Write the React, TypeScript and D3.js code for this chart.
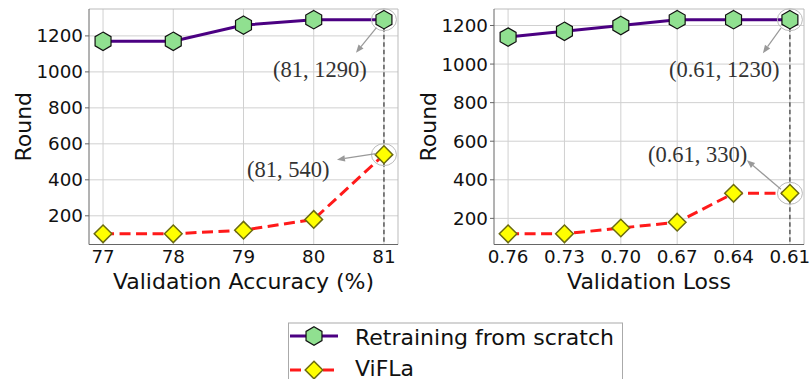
import React from "react";
import * as d3 from "d3";

const accCategories = [77, 78, 79, 80, 81];
const accRetrain = [1170, 1170, 1260, 1290, 1290];
const accViFLa = [100, 100, 120, 180, 540];

const lossCategories = ["0.76", "0.73", "0.70", "0.67", "0.64", "0.61"];
const lossRetrain = [1140, 1170, 1200, 1230, 1230, 1230];
const lossViFLa = [120, 120, 150, 180, 330, 330];

const yTicks = [200, 400, 600, 800, 1000, 1200];
const seriesNames = ["Retraining from scratch", "ViFLa"];

const W = 812;
const H = 379;
const TOP = 9;
const BOTTOM = 244.5;
const SANS = "DejaVu Sans, sans-serif";
const SERIF = "Liberation Serif, Times New Roman, serif";

const hexPath = (r: number) => {
  const pts: [number, number][] = [];
  for (let i = 0; i < 6; i++) {
    const a = -Math.PI / 2 + (i * Math.PI) / 3;
    pts.push([r * Math.cos(a), r * Math.sin(a)]);
  }
  return "M" + pts.map((p) => p.join(",")).join("L") + "Z";
};
const diamondPath = (r: number) => `M0,${-r}L${r},0L0,${r}L${-r},0Z`;

const Hex = ({ x, y }: { x: number; y: number }) => (
  <path d={hexPath(9.2)} transform={`translate(${x},${y})`} fill="#90e090" stroke="#111" strokeWidth={1.2} />
);
const Diamond = ({ x, y }: { x: number; y: number }) => (
  <path d={diamondPath(8.8)} transform={`translate(${x},${y})`} fill="#ffff00" stroke="#6b6b10" strokeWidth={1.5} />
);

type Ann = { dx1: number; dy1: number; dx2: number; dy2: number; tx: number; ty: number; label: string };

function Panel(props: {
  left: number;
  right: number;
  n: number;
  xLabels: string[];
  retrain: number[];
  vifla: number[];
  xTitle: string;
  yTitleX: number;
  annTop: Ann;
  annBottom: Ann;
}) {
  const { left, right, n, xLabels, retrain, vifla } = props;
  const all = retrain.concat(vifla);
  const lo = d3.min(all)!;
  const hi = d3.max(all)!;
  const pad = (hi - lo) * 0.05;
  const x = d3.scaleLinear().domain([-(n - 1) * 0.05, (n - 1) * 1.05]).range([left, right]);
  const y = d3.scaleLinear().domain([lo - pad, hi + pad]).range([BOTTOM, TOP]);
  const idx = d3.range(n);
  const line = d3
    .line<number>()
    .x((_, i) => x(i))
    .y((d) => y(d));
  const last = n - 1;
  const pTop = [x(last), y(retrain[last])];
  const pBot = [x(last), y(vifla[last])];
  const arrow = (p: number[], a: Ann, key: string) => {
    const x1 = p[0] + a.dx1, y1 = p[1] + a.dy1, x2 = p[0] + a.dx2, y2 = p[1] + a.dy2;
    const ang = Math.atan2(y2 - y1, x2 - x1);
    const L = 8, Wd = 3.2;
    const bx = x2 - L * Math.cos(ang), by = y2 - L * Math.sin(ang);
    const head = `M${x2},${y2}L${bx + Wd * Math.sin(ang)},${by - Wd * Math.cos(ang)}L${bx - Wd * Math.sin(ang)},${by + Wd * Math.cos(ang)}Z`;
    return (
      <g key={key}>
        <line x1={x1} y1={y1} x2={bx} y2={by} stroke="#999" strokeWidth={1.2} />
        <path d={head} fill="#999" />
        <text x={p[0] + a.tx} y={p[1] + a.ty} fontFamily={SERIF} fontSize={22.5} fill="#333">
          {a.label}
        </text>
      </g>
    );
  };
  return (
    <g>
      {idx.map((i) => (
        <line key={"gx" + i} x1={x(i)} x2={x(i)} y1={TOP} y2={BOTTOM} stroke="#d0d0d0" strokeWidth={1} />
      ))}
      {yTicks.map((t) => (
        <line key={"gy" + t} x1={left} x2={right} y1={y(t)} y2={y(t)} stroke="#d0d0d0" strokeWidth={1} />
      ))}
      <line x1={left} x2={right} y1={TOP} y2={TOP} stroke="#bbb" strokeWidth={1} />
      <line x1={right} x2={right} y1={TOP} y2={BOTTOM} stroke="#bbb" strokeWidth={1} />
      <line x1={left} x2={left} y1={TOP} y2={BOTTOM} stroke="#666" strokeWidth={1} />
      <line x1={left} x2={right} y1={BOTTOM} y2={BOTTOM} stroke="#666" strokeWidth={1} />
      {yTicks.map((t) => (
        <g key={"yt" + t}>
          <line x1={left - 4} x2={left} y1={y(t)} y2={y(t)} stroke="#666" strokeWidth={1} />
          <text x={left - 6} y={y(t)} dy="0.36em" textAnchor="end" fontFamily={SANS} fontSize={18.3} fill="#111">
            {t}
          </text>
        </g>
      ))}
      {idx.map((i) => (
        <text key={"xt" + i} x={x(i)} y={263} textAnchor="middle" fontFamily={SANS} fontSize={18.3} fill="#111">
          {xLabels[i]}
        </text>
      ))}
      <text x={(left + right) / 2} y={289} textAnchor="middle" fontFamily={SANS} fontSize={22} fill="#111">
        {props.xTitle}
      </text>
      <text
        transform={`translate(${props.yTitleX},${(TOP + BOTTOM) / 2}) rotate(-90)`}
        textAnchor="middle"
        dy="0.36em"
        fontFamily={SANS}
        fontSize={22}
        fill="#111"
      >
        Round
      </text>
      <line x1={pTop[0]} x2={pTop[0]} y1={pTop[1]} y2={BOTTOM} stroke="#444" strokeWidth={1.3} strokeDasharray="4.5,3" />
      <path d={line(retrain) || ""} fill="none" stroke="#4b0082" strokeWidth={3} />
      <path d={line(vifla) || ""} fill="none" stroke="#ff1a1a" strokeWidth={3} strokeDasharray="11,5.5" />
      {retrain.map((v, i) => (
        <Hex key={"h" + i} x={x(i)} y={y(v)} />
      ))}
      {vifla.map((v, i) => (
        <Diamond key={"d" + i} x={x(i)} y={y(v)} />
      ))}
      <ellipse cx={pTop[0]} cy={pTop[1]} rx={12.5} ry={11} fill="none" stroke="#bbb" strokeWidth={1} />
      <ellipse cx={pBot[0]} cy={pBot[1]} rx={12.5} ry={11} fill="none" stroke="#bbb" strokeWidth={1} />
      {arrow(pTop, props.annTop, "at")}
      {arrow(pBot, props.annBottom, "ab")}
    </g>
  );
}

export default function App() {
  return (
    <svg width={W} height={H} style={{ position: "absolute", left: 0, top: 0, background: "#fff" }}>
      <rect x={0} y={0} width={W} height={H} fill="#fff" />
      <Panel
        left={89}
        right={398}
        n={accCategories.length}
        xLabels={accCategories.map(String)}
        retrain={accRetrain}
        vifla={accViFLa}
        xTitle="Validation Accuracy (%)"
        yTitleX={23}
        annTop={{ dx1: -7.5, dy1: 8, dx2: -28, dy2: 33, tx: -111, ty: 57, label: "(81, 1290)" }}
        annBottom={{ dx1: -8, dy1: -1, dx2: -47, dy2: 5, tx: -137, ty: 22, label: "(81, 540)" }}
      />
      <Panel
        left={494}
        right={804}
        n={lossCategories.length}
        xLabels={lossCategories}
        retrain={lossRetrain}
        vifla={lossViFLa}
        xTitle="Validation Loss"
        yTitleX={428}
        annTop={{ dx1: -9, dy1: 8.5, dx2: -27, dy2: 33.5, tx: -121, ty: 57, label: "(0.61, 1230)" }}
        annBottom={{ dx1: -9, dy1: -4, dx2: -43, dy2: -33, tx: -142, ty: -31, label: "(0.61, 330)" }}
      />
      <g>
        <rect x={288.5} y={323} width={334} height={80} fill="#fff" stroke="#aaa" strokeWidth={1} />
        {seriesNames.map((name, i) => {
          const cy = 336 + i * 34;
          return (
            <g key={name}>
              <line
                x1={290}
                x2={338}
                y1={cy}
                y2={cy}
                stroke={i === 0 ? "#4b0082" : "#ff1a1a"}
                strokeWidth={3}
                strokeDasharray={i === 0 ? undefined : "11,5.5"}
              />
              {i === 0 ? <Hex x={314} y={cy} /> : <Diamond x={314} y={cy} />}
              <text x={355} y={i === 0 ? 344.5 : 375.5} fontFamily={SANS} fontSize={22} fill="#111">
                {name}
              </text>
            </g>
          );
        })}
      </g>
    </svg>
  );
}
